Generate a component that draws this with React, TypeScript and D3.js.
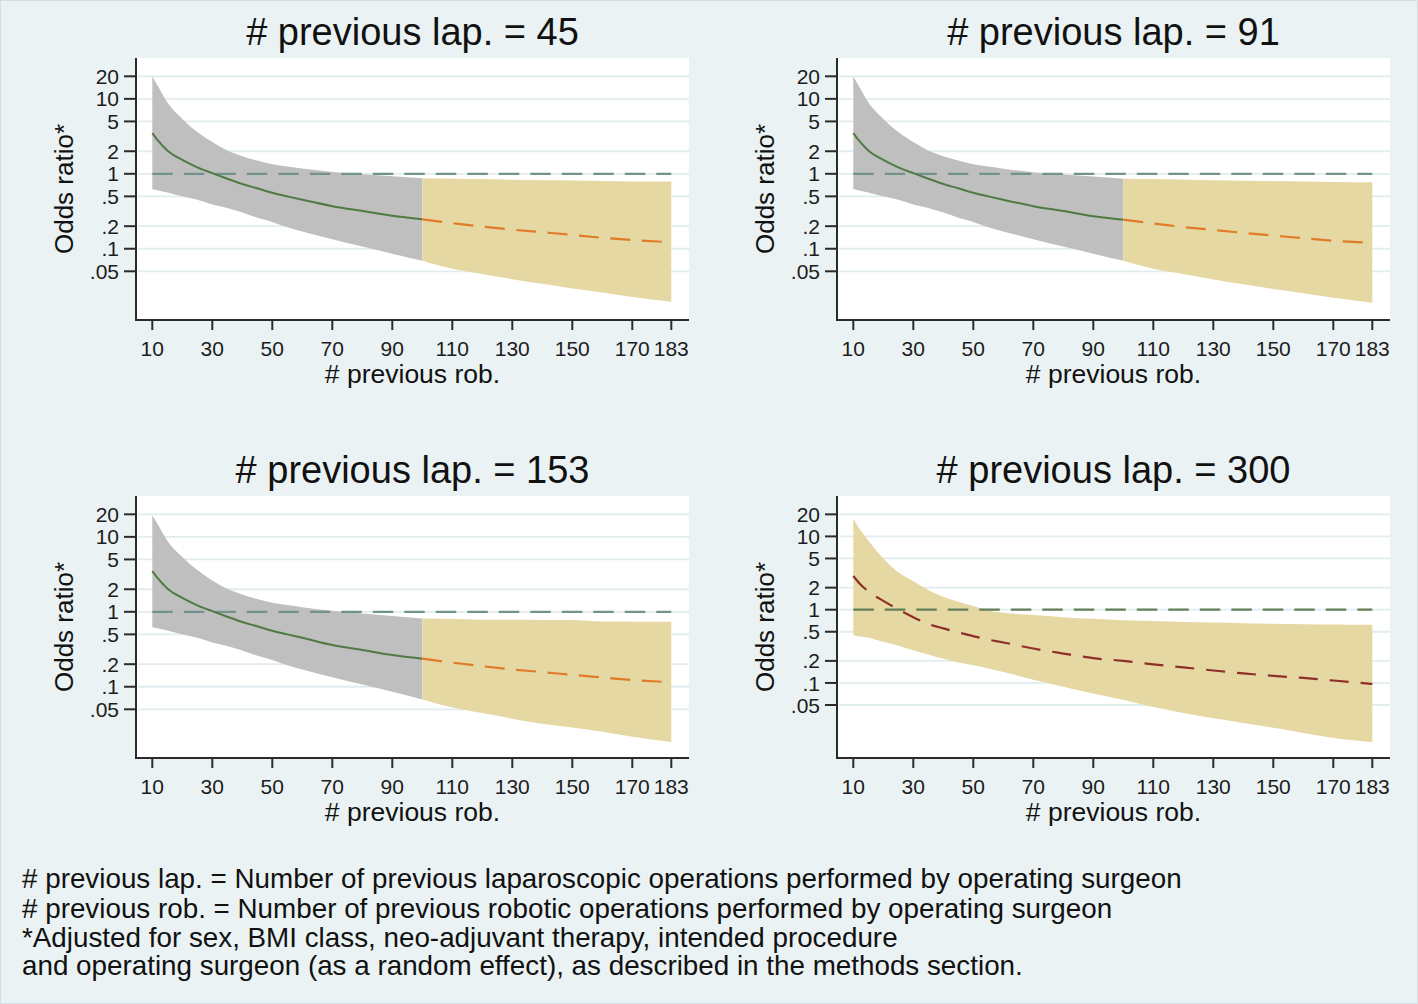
import React from "react";
import * as d3 from "d3";

// ---------- data ----------
const robX = [10, 12, 15, 20, 25, 30, 35, 40, 45, 50, 55, 60, 70, 80, 90, 100, 110, 120, 130, 140, 150, 160, 170, 183];

const lap45Est = [3.5, 2.75, 2.05, 1.53, 1.22, 1.02, 0.86, 0.73, 0.64, 0.56, 0.5, 0.45, 0.37, 0.32, 0.275, 0.247, 0.22, 0.197, 0.18, 0.166, 0.153, 0.14, 0.131, 0.122];
const lap45Hi = [19.9, 14.5, 9.0, 5.4, 3.6, 2.65, 2.05, 1.72, 1.5, 1.34, 1.25, 1.18, 1.06, 0.99, 0.93, 0.87, 0.86, 0.85, 0.83, 0.82, 0.815, 0.8, 0.79, 0.79];
const lap45Lo = [0.62, 0.6, 0.565, 0.5, 0.45, 0.39, 0.35, 0.305, 0.26, 0.228, 0.193, 0.17, 0.134, 0.107, 0.086, 0.069, 0.054, 0.046, 0.0393, 0.034, 0.0295, 0.026, 0.0227, 0.0196];

const lap91Est = [3.5, 2.75, 2.05, 1.53, 1.22, 1.02, 0.86, 0.73, 0.64, 0.56, 0.5, 0.45, 0.37, 0.318, 0.272, 0.244, 0.218, 0.195, 0.178, 0.163, 0.15, 0.138, 0.128, 0.12];
const lap91Hi = [19.9, 14.5, 9.0, 5.4, 3.6, 2.65, 2.05, 1.72, 1.5, 1.34, 1.25, 1.17, 1.05, 0.98, 0.92, 0.86, 0.85, 0.84, 0.82, 0.81, 0.8, 0.79, 0.78, 0.77];
const lap91Lo = [0.62, 0.6, 0.565, 0.5, 0.45, 0.39, 0.35, 0.305, 0.26, 0.228, 0.193, 0.17, 0.134, 0.107, 0.086, 0.069, 0.054, 0.046, 0.039, 0.0335, 0.029, 0.0255, 0.0222, 0.019];

const lap153Est = [3.5, 2.75, 2.05, 1.53, 1.22, 1.02, 0.86, 0.73, 0.64, 0.56, 0.5, 0.45, 0.36, 0.31, 0.265, 0.237, 0.21, 0.188, 0.17, 0.157, 0.144, 0.133, 0.123, 0.115];
const lap153Hi = [19.4, 14.3, 8.9, 5.4, 3.6, 2.62, 2.03, 1.7, 1.48, 1.32, 1.23, 1.15, 1.03, 0.95, 0.88, 0.815, 0.8, 0.785, 0.783, 0.78, 0.775, 0.74, 0.737, 0.736];
const lap153Lo = [0.62, 0.6, 0.565, 0.5, 0.45, 0.39, 0.35, 0.305, 0.26, 0.228, 0.193, 0.17, 0.134, 0.107, 0.086, 0.0676, 0.053, 0.0445, 0.0375, 0.032, 0.0285, 0.025, 0.0215, 0.0183];

const lap300Est = [2.88, 2.3, 1.78, 1.32, 1.01, 0.79, 0.64, 0.555, 0.49, 0.435, 0.39, 0.357, 0.295, 0.252, 0.218, 0.2, 0.179, 0.163, 0.148, 0.135, 0.125, 0.117, 0.108, 0.097];
const lap300Hi = [17.4, 12.8, 8.8, 5.0, 3.25, 2.45, 1.86, 1.5, 1.28, 1.12, 0.975, 0.91, 0.845, 0.79, 0.75, 0.72, 0.7, 0.68, 0.67, 0.655, 0.643, 0.635, 0.628, 0.624];
const lap300Lo = [0.447, 0.43, 0.415, 0.365, 0.323, 0.28, 0.245, 0.214, 0.19, 0.175, 0.158, 0.141, 0.111, 0.089, 0.072, 0.059, 0.047, 0.039, 0.033, 0.0285, 0.0245, 0.0208, 0.0178, 0.0157];

const panelTitles = ["# previous lap. = 45", "# previous lap. = 91", "# previous lap. = 153", "# previous lap. = 300"];
const robCut = 100;
const xTicks = [10, 30, 50, 70, 90, 110, 130, 150, 170, 183];
const yTicks = [20, 10, 5, 2, 1, 0.5, 0.2, 0.1, 0.05];
const yTickLabels = ["20", "10", "5", "2", "1", ".5", ".2", ".1", ".05"];
const refValue = 1;
const yAxisTitle = "Odds ratio*";
const xAxisTitle = "# previous rob.";
const footnotes = [
  "# previous lap. = Number of previous laparoscopic operations performed by operating surgeon",
  "# previous rob. = Number of previous robotic operations performed by operating surgeon",
  "*Adjusted for sex, BMI class, neo-adjuvant therapy, intended procedure",
  "and operating surgeon (as a random effect), as described in the methods section.",
];

// ---------- layout ----------
const W = 1418;
const H = 1004;
const BG = "#eaf2f3";
const PL = 136, PR = 689, PT = 58, PB = 320;
const COL_DX = 701, ROW_DY = 438;
const FONT = "'Liberation Sans', Arial, Helvetica, sans-serif";

const panels = [
  { title: panelTitles[0], est: lap45Est, lo: lap45Lo, hi: lap45Hi, split: true, yDom: [0.0112, 35.1], col: 0, row: 0, ref: "#72928c" },
  { title: panelTitles[1], est: lap91Est, lo: lap91Lo, hi: lap91Hi, split: true, yDom: [0.0112, 35.1], col: 1, row: 0, ref: "#72928c" },
  { title: panelTitles[2], est: lap153Est, lo: lap153Lo, hi: lap153Hi, split: true, yDom: [0.0112, 35.1], col: 0, row: 1, ref: "#72928c" },
  { title: panelTitles[3], est: lap300Est, lo: lap300Lo, hi: lap300Hi, split: false, yDom: [0.00946, 35.6], col: 1, row: 1, ref: "#627f58" },
];

const GRAY = "#bfbfbf";
const SAND = "#e6d8a2";
const GREEN = "#4f7a43";
const ORANGE = "#e07b2a";
const MAROON = "#8e2f2a";
const AXIS = "#2b2b2b";

type Pt = { x: number; est: number; lo: number; hi: number };

function Panel({ p }: { p: (typeof panels)[number] }) {
  const x = d3.scaleLinear().domain([10 - (152.3 - PL) / 3, 10 + (PR - 152.3) / 3]).range([PL, PR]);
  const y = d3.scaleLog().domain(p.yDom).range([PB, PT]);
  const pts: Pt[] = robX.map((v, i) => ({ x: v, est: p.est[i], lo: p.lo[i], hi: p.hi[i] }));
  const lapPts = pts.filter((d) => d.x <= robCut);
  const robPts = pts.filter((d) => d.x >= robCut);

  const area = d3
    .area<Pt>()
    .x((d) => x(d.x))
    .y0((d) => y(d.lo))
    .y1((d) => y(d.hi))
    .curve(d3.curveMonotoneX);
  const line = d3
    .line<Pt>()
    .x((d) => x(d.x))
    .y((d) => y(d.est))
    .curve(d3.curveMonotoneX);

  const dx = p.col * COL_DX;
  const dy = p.row * ROW_DY;
  const cx = (PL + PR) / 2;

  return (
    <g transform={`translate(${dx},${dy})`}>
      <rect x={PL} y={PT} width={PR - PL} height={PB - PT} fill="#ffffff" />
      {yTicks.map((t) => (
        <line key={"g" + t} x1={PL + 2} x2={PR} y1={y(t)} y2={y(t)} stroke="#e1ecef" strokeWidth={1.8} />
      ))}
      {p.split ? (
        <>
          <path d={area(lapPts) || ""} fill={GRAY} />
          <path d={area(robPts) || ""} fill={SAND} />
        </>
      ) : (
        <path d={area(pts) || ""} fill={SAND} />
      )}
      <line x1={x(10)} x2={x(183)} y1={y(refValue)} y2={y(refValue)} stroke={p.ref} strokeWidth={2.2} strokeDasharray="20.5 11" />
      {p.split ? (
        <>
          <path d={line(lapPts) || ""} fill="none" stroke={GREEN} strokeWidth={2} />
          <path d={line(robPts) || ""} fill="none" stroke={ORANGE} strokeWidth={2.2} strokeDasharray="20 11.5" />
        </>
      ) : (
        <path d={line(pts) || ""} fill="none" stroke={MAROON} strokeWidth={2.2} strokeDasharray="19 12" />
      )}
      {/* axes */}
      <line x1={PL} x2={PL} y1={PT} y2={PB + 1} stroke={AXIS} strokeWidth={2} />
      <line x1={PL - 1} x2={PR} y1={PB} y2={PB} stroke={AXIS} strokeWidth={2} />
      {yTicks.map((t, i) => (
        <g key={"y" + t}>
          <line x1={PL - 12} x2={PL} y1={y(t)} y2={y(t)} stroke={AXIS} strokeWidth={2} />
          <text x={PL - 17} y={y(t)} dy="0.36em" textAnchor="end" fontSize={21} fill="#1c1c1c">
            {yTickLabels[i]}
          </text>
        </g>
      ))}
      {xTicks.map((t) => (
        <g key={"x" + t}>
          <line x1={x(t)} x2={x(t)} y1={PB} y2={PB + 10} stroke={AXIS} strokeWidth={2} />
          <text x={x(t)} y={355.5} textAnchor="middle" fontSize={21} fill="#1c1c1c">
            {t}
          </text>
        </g>
      ))}
      <text x={cx} y={45} textAnchor="middle" fontSize={38} fill="#111">
        {p.title}
      </text>
      <text x={cx} y={383} textAnchor="middle" fontSize={26.5} fill="#111">
        {xAxisTitle}
      </text>
      <text transform={`translate(73,${(PT + PB) / 2}) rotate(-90)`} textAnchor="middle" fontSize={26} fill="#111">
        {yAxisTitle}
      </text>
    </g>
  );
}

export default function App() {
  const noteY = [888, 918, 947, 975];
  return (
    <svg
      width={W}
      height={H}
      style={{ position: "absolute", left: 0, top: 0, display: "block" }}
      fontFamily={FONT}
    >
      <rect x={0} y={0} width={W} height={H} fill={BG} />
      <rect x={0.5} y={0.5} width={W - 1} height={H - 1} fill="none" stroke="#d3dfe2" strokeWidth={1} />
      {panels.map((p, i) => (
        <Panel key={i} p={p} />
      ))}
      {footnotes.map((t, i) => (
        <text key={i} x={22} y={noteY[i]} fontSize={27.8} fill="#111">
          {t}
        </text>
      ))}
    </svg>
  );
}
